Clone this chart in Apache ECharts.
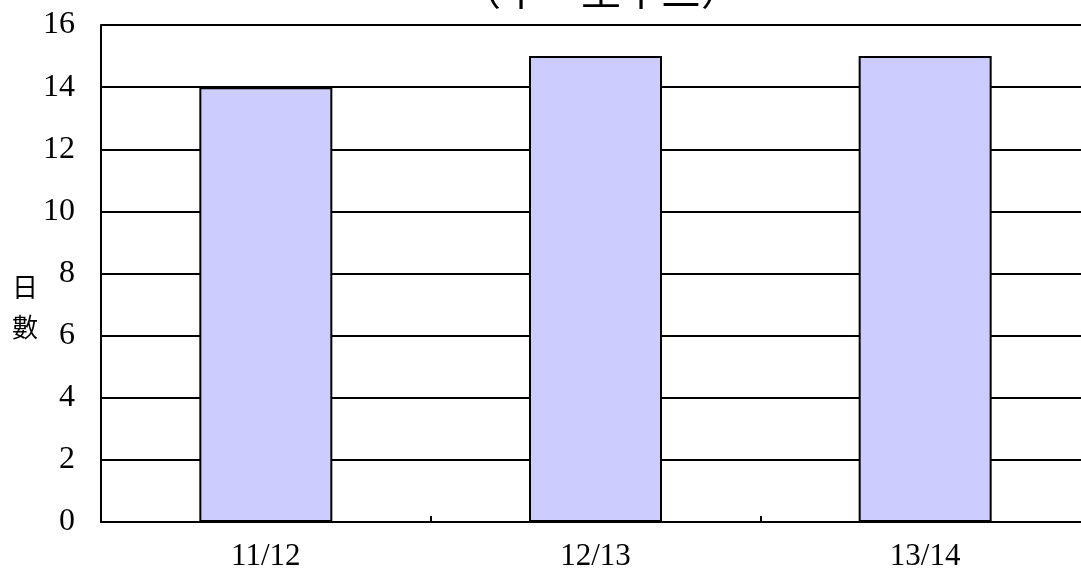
<!DOCTYPE html>
<html lang="zh-Hant">
<head>
    <meta charset="UTF-8">
    <title>日數</title>
    <style>
        *{
            margin: 0;
            padding: 0;
        }
        html, body{
            background: #fff;
            overflow: hidden;
        }
        #chart{
            width: 1081px;
            height: 574px;
        }
    </style>
</head>
<body>
    <div id="chart"></div>
    <script src="https://cdn.jsdelivr.net/npm/echarts@6/dist/echarts.min.js"></script>
    <script>
        // data
        var categories = ['11/12', '12/13', '13/14'];
        var days = [14, 15, 15];
        var titleText = '（十一至十三）';
        var yName = '日\n數';

        var numFont = '"Liberation Serif", "DejaVu Serif", serif';
        var cjkFont = '"Noto Sans CJK TC", "Noto Sans CJK SC", sans-serif';

        var chart = echarts.init(document.getElementById('chart'));

        var option = {
            animation: false,
            backgroundColor: '#fff',
            grid: {
                left: 101,
                right: -9,
                top: 25,
                bottom: 52,
                outerBoundsMode: 'none'
            },
            graphic: [{
                type: 'text',
                left: 461,
                top: -30,
                style: {
                    text: titleText,
                    font: '40px ' + cjkFont,
                    fill: '#000'
                }
            }, {
                // y axis name, written vertically
                type: 'text',
                left: 12,
                top: 267,
                style: {
                    text: yName,
                    font: '26px ' + cjkFont,
                    lineHeight: 40,
                    fill: '#000'
                }
            }],
            xAxis: {
                type: 'category',
                data: categories,
                axisLine: {
                    lineStyle: { color: '#000', width: 2 }
                },
                axisTick: {
                    show: true,
                    inside: true,
                    length: 6,
                    lineStyle: { color: '#000', width: 2 }
                },
                axisLabel: {
                    margin: 19,
                    color: '#000',
                    fontFamily: numFont,
                    fontSize: 31
                }
            },
            yAxis: {
                type: 'value',
                min: 0,
                max: 16,
                interval: 2,
                axisLine: {
                    show: true,
                    lineStyle: { color: '#000', width: 2 }
                },
                axisTick: { show: false },
                splitLine: {
                    lineStyle: { color: '#000', width: 2 }
                },
                axisLabel: {
                    margin: 26,
                    color: '#000',
                    fontFamily: numFont,
                    fontSize: 32
                }
            },
            series: [{
                type: 'bar',
                data: days,
                barWidth: 133,
                itemStyle: {
                    color: '#ccccff',
                    borderColor: '#000',
                    borderWidth: 2
                }
            }]
        };

        chart.setOption(option);
    </script>
</body>
</html>
